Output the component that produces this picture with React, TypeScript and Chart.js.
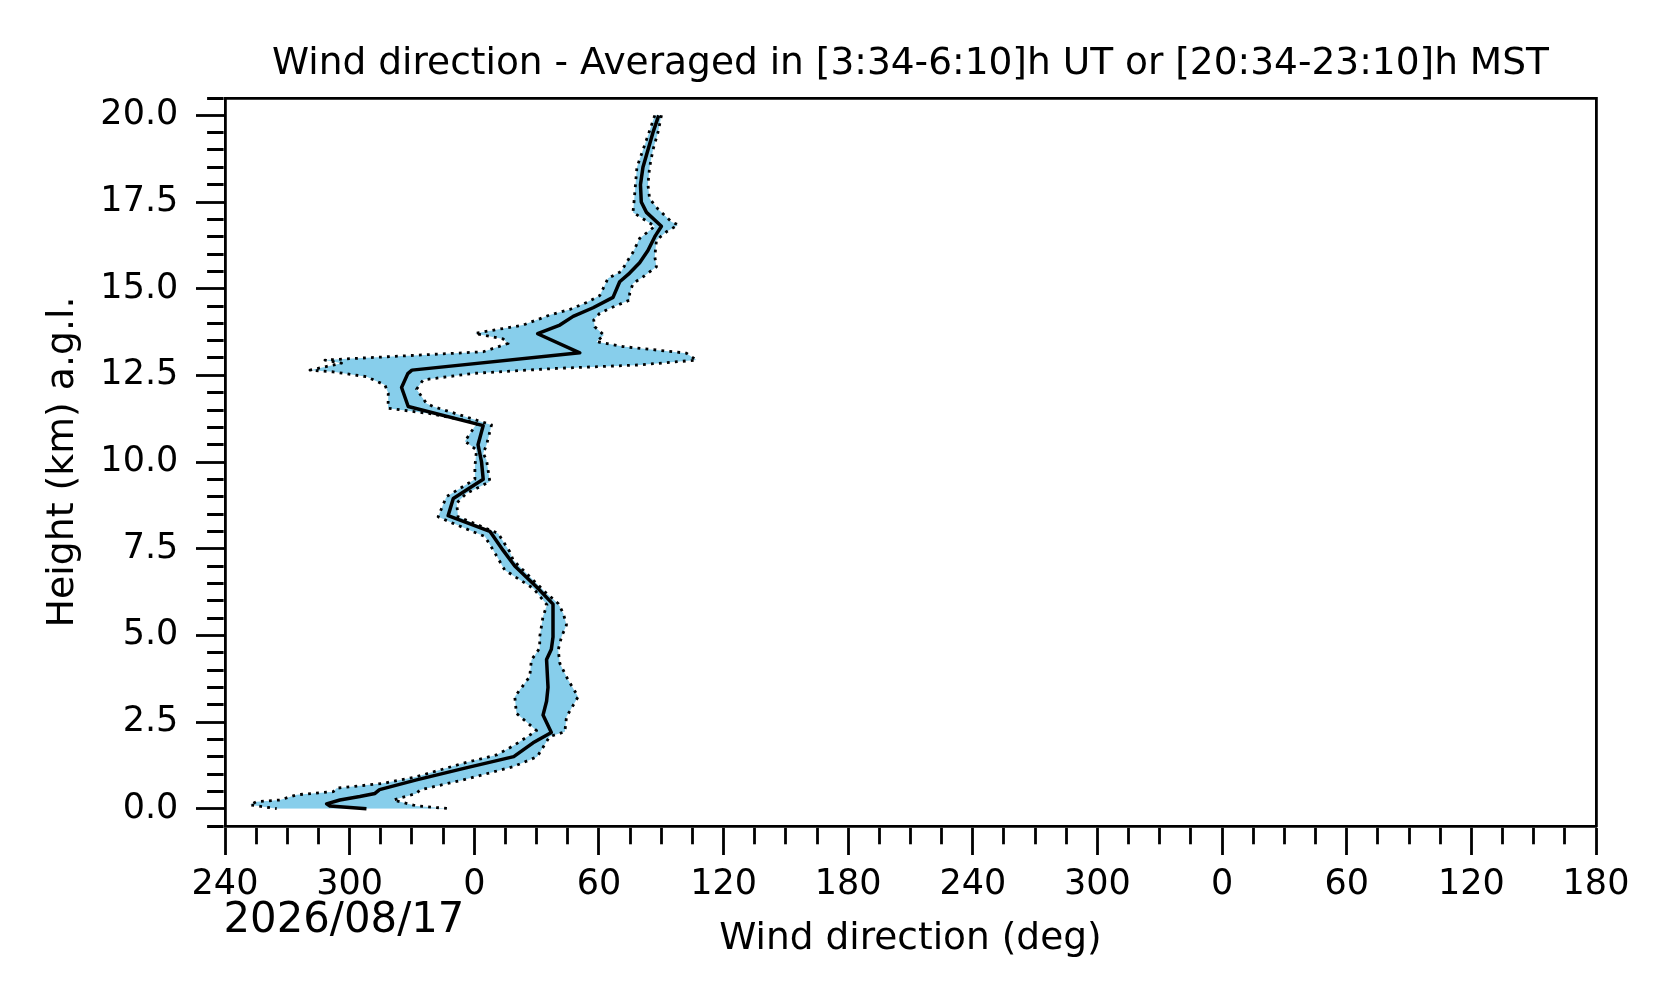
import React, { useEffect, useRef } from 'react';
import { Chart, registerables } from 'chart.js';

Chart.register(...registerables);

// Heights in km a.g.l., listed from the top down. Directions in degrees, unwrapped
// so that values below 0 stand for 360 + value (the axis labels wrap them back).
const meanHeight = [20.0, 19.5, 19.0, 18.5, 18.0, 17.5, 17.2, 16.8, 16.5, 16.1, 15.75, 15.45, 15.2, 14.75, 14.45, 14.2, 13.95, 13.7, 13.15, 12.65, 12.55, 12.15, 11.6, 11.05, 10.5, 10.0, 9.5, 8.95, 8.45, 8.0, 7.45, 7.0, 6.4, 5.9, 4.95, 4.6, 4.3, 3.5, 3.1, 2.7, 2.2, 1.9, 1.5, 1.17, 0.83, 0.55, 0.44, 0.35, 0.25, 0.14, 0.08, 0.0];
const meanDir = [88.8, 86.0, 83.6, 81.2, 80.0, 80.4, 82.9, 90.1, 86.9, 83.6, 79.6, 74.8, 70.0, 66.8, 57.2, 47.6, 41.2, 30.5, 50.8, -30.0, -32.0, -35.0, -31.8, 4.3, 1.8, 3.5, 4.3, -10.1, -12.6, 7.5, 13.9, 19.5, 29.9, 37.9, 37.9, 37.1, 34.8, 35.5, 34.8, 33.1, 37.1, 28.3, 19.0, -4.5, -27.8, -45.6, -47.8, -55.1, -64.7, -71.1, -69.5, -51.9];

const lowHeight = [20.0, 19.5, 19.0, 18.5, 18.0, 17.5, 17.2, 16.8, 16.45, 16.05, 15.75, 15.5, 15.3, 15.1, 14.8, 14.6, 14.4, 14.24, 13.95, 13.71, 13.55, 13.42, 13.18, 13.09, 12.99, 12.94, 12.85, 12.65, 12.6, 12.46, 12.22, 11.98, 11.55, 11.4, 11.2, 11.1, 10.6, 10.35, 9.87, 9.5, 9.0, 8.42, 8.23, 7.85, 7.46, 6.88, 6.35, 5.88, 5.54, 4.96, 4.63, 4.29, 3.81, 3.23, 2.75, 2.25, 1.82, 1.55, 1.3, 0.92, 0.73, 0.59, 0.49, 0.4, 0.25, 0.2, 0.11, 0.0];
const lowDir = [86.9, 84.1, 81.2, 78.3, 77.6, 76.9, 76.4, 86.9, 79.6, 76.4, 73.2, 70.8, 64.4, 62.8, 60.4, 54.0, 46.0, 36.3, 23.5, 0.3, 13.9, 16.3, 4.3, -24.6, -56.6, -71.9, -63.9, -79.1, -67.9, -51.8, -43.0, -41.4, -41.5, -22.0, -4.0, 1.1, -4.5, 1.1, 0.3, 0.3, -13.4, -17.4, -10.2, 5.1, 9.1, 14.7, 28.5, 35.0, 33.1, 31.5, 31.5, 27.5, 26.7, 19.5, 20.3, 30.0, 19.0, 10.7, -6.0, -27.8, -43.8, -66.3, -67.9, -85.5, -93.5, -104.8, -108.0, -95.1];

const highHeight = [20.0, 19.5, 19.0, 18.5, 18.0, 17.6, 17.3, 16.93, 16.84, 16.64, 16.4, 15.92, 15.63, 15.34, 15.15, 14.86, 14.67, 14.43, 14.29, 14.1, 13.9, 13.66, 13.47, 13.33, 13.14, 12.94, 12.8, 12.7, 12.56, 12.37, 12.1, 11.69, 11.6, 11.07, 10.49, 10.25, 10.06, 9.43, 9.1, 8.81, 8.42, 7.94, 7.41, 7.17, 6.74, 6.21, 5.92, 5.64, 5.3, 4.96, 4.58, 4.19, 3.71, 3.23, 2.65, 2.22, 2.08, 1.5, 1.21, 0.83, 0.54, 0.44, 0.25, 0.08, 0.0];
const highDir = [90.1, 88.4, 86.0, 84.4, 83.6, 84.4, 88.4, 94.9, 98.1, 92.5, 87.7, 86.9, 87.7, 81.2, 76.4, 74.8, 74.8, 65.2, 60.4, 57.5, 58.0, 62.4, 58.8, 71.6, 102.1, 106.9, 79.6, 39.6, 0.3, -24.6, -27.8, -23.0, -19.8, 8.3, 5.9, 4.3, 5.9, 7.5, -3.7, -8.5, -7.8, 11.5, 17.1, 18.7, 25.9, 34.8, 40.4, 42.8, 44.4, 42.0, 40.4, 41.2, 45.2, 50.0, 44.4, 43.6, 36.3, 30.3, 18.7, -5.4, -26.2, -27.8, -39.0, -27.8, -11.8];

const titleText = 'Wind direction - Averaged in [3:34-6:10]h UT or [20:34-23:10]h MST';
const xTitle = 'Wind direction (deg)';
const yTitle = 'Height (km) a.g.l.';
const dateLabel = '2026/08/17';

const FONT = 'DejaVu Sans';
const INK = '#000';

const isMult = (v: number, step: number) => Math.abs(v / step - Math.round(v / step)) < 1e-6;
const toPoints = (hs: number[], ds: number[]) => hs.map((h, i) => ({ x: ds[i], y: h }));

// the date sits under the first tick labels, left aligned on the axes
const dateTextPlugin = {
  id: 'dateText',
  afterDraw(chart: Chart) {
    const { ctx, chartArea } = chart;
    ctx.save();
    ctx.font = `41.8px "${FONT}"`;
    ctx.fillStyle = INK;
    ctx.textAlign = 'left';
    ctx.textBaseline = 'alphabetic';
    ctx.fillText(dateLabel, chartArea.left - 1.5, chartArea.bottom + 106);
    ctx.restore();
  },
};

const App = () => {
  const canvasRef = useRef<HTMLCanvasElement | null>(null);

  useEffect(() => {
    document.body.style.margin = '0';
    const canvas = canvasRef.current;
    if (!canvas) return;

    const dotted = {
      borderColor: INK,
      borderWidth: 2.8,
      borderDash: [2.8, 5.2],
      borderJoinStyle: 'round',
      pointRadius: 0,
    };

    const frame = { color: INK, width: 2.8 };

    const chart = new Chart(canvas, {
      type: 'line',
      data: {
        datasets: [
          {
            label: 'mean',
            data: toPoints(meanHeight, meanDir),
            borderColor: INK,
            borderWidth: 3.5,
            borderJoinStyle: 'round',
            pointRadius: 0,
            fill: false,
          },
          {
            label: 'low',
            data: toPoints(lowHeight, lowDir),
            ...dotted,
            backgroundColor: '#87CEEB',
            fill: '+1',
          },
          {
            label: 'high',
            data: toPoints(highHeight, highDir),
            ...dotted,
            fill: false,
          },
        ],
      },
      options: {
        animation: false,
        responsive: false,
        devicePixelRatio: 1,
        indexAxis: 'y',
        layout: { padding: { left: 0, right: 80, top: 0, bottom: 0 } },
        elements: { line: { tension: 0 } },
        plugins: {
          legend: { display: false },
          tooltip: { enabled: false },
          filler: { drawTime: 'beforeDatasetsDraw' },
          title: {
            display: true,
            text: titleText,
            fullSize: false,
            color: INK,
            font: { family: FONT, size: 37.5, weight: 'normal' },
            padding: { top: 41.5, bottom: 11.5 },
          },
        },
        scales: {
          x: {
            type: 'linear',
            position: 'bottom',
            min: -120,
            max: 540,
            afterFit: (s: any) => { s.height = 177; },
            ticks: {
              stepSize: 15,
              autoSkip: false,
              maxRotation: 0,
              minRotation: 0,
              padding: 9,
              color: INK,
              font: { family: FONT, size: 35 },
              callback: (v: any) => (isMult(Number(v), 60) ? String(((Number(v) % 360) + 360) % 360) : ''),
            },
            grid: {
              drawOnChartArea: false,
              tickLength: 29,
              tickWidth: 2.8,
              tickColor: INK,
              tickBorderDash: (ctx: any) => (ctx.tick && isMult(ctx.tick.value, 60) ? [] : [16.5, 1000]),
            },
            border: frame,
            title: {
              display: true,
              text: xTitle,
              color: INK,
              font: { family: FONT, size: 37.5 },
              padding: { top: 0, bottom: 41.5 },
            },
          },
          y: {
            type: 'linear',
            position: 'left',
            min: -0.5,
            max: 20.5,
            afterFit: (s: any) => { s.width = 225; },
            ticks: {
              stepSize: 0.5,
              autoSkip: false,
              padding: 17.7,
              color: INK,
              font: { family: FONT, size: 35 },
              callback: (v: any) => (isMult(Number(v), 2.5) ? Number(v).toFixed(1) : ''),
            },
            grid: {
              drawOnChartArea: false,
              tickLength: 29,
              tickWidth: 2.8,
              tickColor: INK,
              tickBorderDash: (ctx: any) => (ctx.tick && isMult(ctx.tick.value, 2.5) ? [] : [0, 11.1, 16.5, 1000]),
            },
            border: frame,
            title: {
              display: true,
              text: yTitle,
              color: INK,
              font: { family: FONT, size: 37.8 },
              padding: { top: 40, bottom: 0 },
            },
          },
          // plain frame on the top and right, as in the source figure
          x2: {
            type: 'linear',
            position: 'top',
            min: -120,
            max: 540,
            afterFit: (s: any) => { s.height = 0; },
            ticks: { display: false },
            grid: { drawOnChartArea: false, drawTicks: false },
            border: frame,
          },
          y2: {
            type: 'linear',
            position: 'right',
            min: -0.5,
            max: 20.5,
            afterFit: (s: any) => { s.width = 0; },
            ticks: { display: false },
            grid: { drawOnChartArea: false, drawTicks: false },
            border: frame,
          },
        },
      } as any,
      plugins: [dateTextPlugin],
    });

    return () => {
      chart.destroy();
    };
  }, []);

  return <canvas ref={canvasRef} width={1676} height={1003} style={{ display: 'block' }} />;
};

export default App;
